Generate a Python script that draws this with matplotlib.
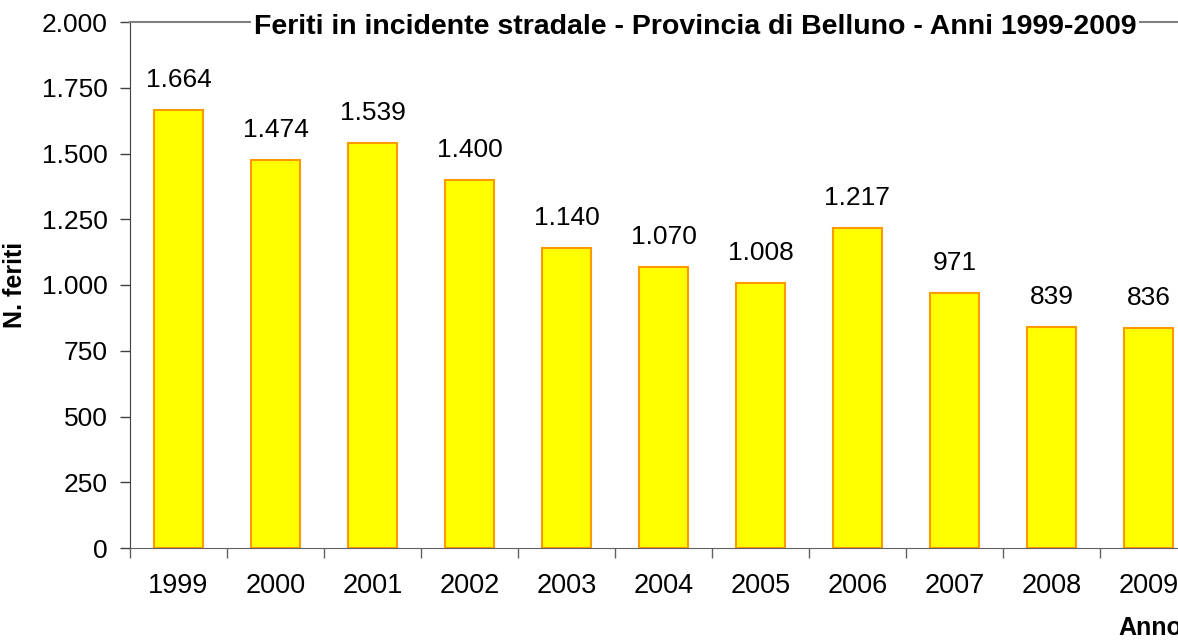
import matplotlib.pyplot as plt
from matplotlib.ticker import FuncFormatter, FixedLocator

# data
anni = ['1999', '2000', '2001', '2002', '2003', '2004', '2005', '2006', '2007', '2008', '2009']
feriti = [1664, 1474, 1539, 1400, 1140, 1070, 1008, 1217, 971, 839, 836]
yticks = [0, 250, 500, 750, 1000, 1250, 1500, 1750, 2000]

plt.rcParams['font.family'] = ['Liberation Sans', 'DejaVu Sans']

def fmt(v):
    # thousands separator with a dot
    return '{:,}'.format(int(v)).replace(',', '.')

fig = plt.figure(figsize=(11.78, 6.43), dpi=100)
ax = fig.add_axes([130/1178, 1-548/643, 1067/1178, 526/643])

x = range(len(anni))
ax.bar(x, feriti, width=0.5, color='#FFFF00', edgecolor='#FF9900', linewidth=1.5, zorder=2)

for i, v in enumerate(feriti):
    ax.annotate(fmt(v), (i, v), xytext=(0, 16.5), textcoords='offset points',
                ha='center', va='baseline', fontsize=19)

ax.set_xlim(-0.5, len(anni) - 0.5)
ax.set_ylim(0, 2000)
ax.set_yticks(yticks)
ax.yaxis.set_major_formatter(FuncFormatter(lambda v, p: fmt(v)))
ax.tick_params(axis='y', length=7, width=1, pad=9, labelsize=19, color='#404040')

ax.xaxis.set_major_locator(FixedLocator([i - 0.5 for i in range(len(anni) + 1)]))
ax.xaxis.set_minor_locator(FixedLocator(list(x)))
ax.set_xticklabels([], minor=False)
ax.set_xticklabels(anni, minor=True)
ax.tick_params(axis='x', which='major', length=7, width=1, color='#606060')
ax.tick_params(axis='x', which='minor', length=0, pad=18, labelsize=19.5)

ax.spines['right'].set_visible(False)
ax.spines['top'].set_color('#808080')
ax.spines['top'].set_linewidth(1.5)
ax.spines['left'].set_color('#404040')
ax.spines['bottom'].set_color('#606060')

ax.set_ylabel('N. feriti', fontsize=18, fontweight='bold')
ax.yaxis.set_label_coords(-0.0965, 0.5)

fig.text(254/1178, 1-27/643, 'Feriti in incidente stradale - Provincia di Belluno - Anni 1999-2009',
         fontsize=20.5, fontweight='bold', ha='left', va='center',
         bbox=dict(facecolor='white', edgecolor='none', pad=2))
fig.text(1118/1178, 1-628/643, 'Anno', fontsize=18, fontweight='bold', ha='left', va='center')

fig.savefig('out.png', dpi=100)
